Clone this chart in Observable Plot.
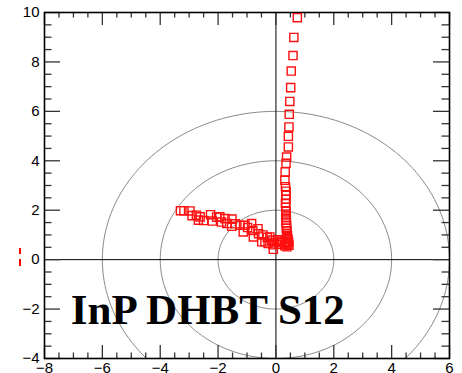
<!DOCTYPE html>
<html><head><meta charset="utf-8">
<script src="https://cdn.jsdelivr.net/npm/d3@7"></script>
<script src="https://cdn.jsdelivr.net/npm/@observablehq/plot@0.6"></script>
<style>
html,body{margin:0;padding:0;background:#fff;}
#wrap{position:relative;width:462px;height:373px;overflow:hidden;}
.dash{position:absolute;left:19px;width:2px;background:#ff0000;}
</style>
</head><body><div id="wrap"></div>
<script>
// Tick values
const xMajor = [-8, -6, -4, -2, 0, 2, 4, 6];
const yMajor = [-4, -2, 0, 2, 4, 6, 8, 10];
const xMinor = d3.range(-8, 6.001, 0.5).filter(v => !xMajor.includes(v));
const yMinor = d3.range(-4, 10.001, 0.5).filter(v => !yMajor.includes(v));

// Reference circle radii
const radii = [2, 4, 6];

const s12x = [
  0.74, 0.62, 0.59, 0.53, 0.51, 0.48, 0.46, 0.45, 0.43, 0.43, 0.37, 0.35, 0.32, 0.31,
  0.33, 0.35, 0.34, 0.35, 0.33, 0.34, 0.35, 0.34, 0.35, 0.36, 0.35, 0.37, 0.36, 0.38, 0.37,
  0.40, 0.38, 0.42, 0.36, 0.44, 0.33, 0.40, 0.45, 0.30, 0.38,
  0.20, 0.15, 0.10, 0.05, -0.04, -0.09, -0.10, -0.15, -0.21, -0.27, -0.30, -0.38, -0.45, -0.49,
  -0.60, -0.62, -0.78, -0.80, -0.84, -0.98, -1.07, -1.13, -1.24, -1.40, -1.53, -1.52, -1.70,
  -1.76, -1.88, -1.94, -2.05, -2.20, -2.26, -2.50, -2.68, -2.62, -2.75, -2.90, -2.97, -3.18, -3.30
];
const s12y = [
  9.79, 8.99, 8.26, 7.63, 6.96, 6.40, 5.88, 5.37, 4.99, 4.56, 4.15, 3.90, 3.55, 3.21,
  2.95, 2.77, 2.60, 2.44, 2.28, 2.12, 1.98, 1.85, 1.72, 1.60, 1.48, 1.37, 1.27, 1.17, 1.07,
  0.98, 0.90, 0.82, 0.75, 0.70, 0.66, 0.62, 0.58, 0.56, 0.52,
  0.75, 0.70, 0.62, 0.80, 0.68, 0.42, 0.60, 0.79, 0.92, 0.65, 0.90, 0.72, 1.00, 0.72,
  1.05, 1.25, 0.92, 1.18, 1.46, 1.30, 1.39, 1.12, 1.39, 1.45, 1.35, 1.64, 1.46,
  1.66, 1.52, 1.73, 1.72, 1.56, 1.82, 1.58, 1.60, 1.73, 1.80, 1.78, 1.97, 1.98, 1.98
];
const chartLabel = "InP DHBT S12";

const W = 462, H = 373;
const mL = 44, mR = 13, mT = 12, mB = 15;
const innerW = W - mL - mR, innerH = H - mT - mB;

const points = s12x.map((x, i) => ({x, y: s12y[i]}));
const circlePts = radii.flatMap(r => d3.range(0, 361, 2).map(a => ({
  r, x: r * Math.cos(a * Math.PI / 180), y: r * Math.sin(a * Math.PI / 180)
})));

const tickStyle = {stroke: "#333", strokeOpacity: 1, strokeWidth: 1.3};

const chart = Plot.plot({
  width: W, height: H,
  marginLeft: mL, marginRight: mR, marginTop: mT, marginBottom: mB,
  x: {domain: [-8, 6]},
  y: {domain: [-4, 10]},
  style: {fontFamily: "'Liberation Sans', Arial, sans-serif", background: "white", color: "black"},
  marks: [
    Plot.line(circlePts, {x: "x", y: "y", z: "r", stroke: "#8a8a8a", strokeWidth: 1, clip: true}),
    Plot.ruleX([0], {stroke: "black", strokeWidth: 1}),
    Plot.ruleY([0], {stroke: "black", strokeWidth: 1}),
    // inward ticks: left / right
    Plot.gridY(yMajor, {...tickStyle, insetRight: innerW - 16}),
    Plot.gridY(yMinor, {...tickStyle, insetRight: innerW - 7.5}),
    Plot.gridY(yMajor, {...tickStyle, insetLeft: innerW - 16}),
    Plot.gridY(yMinor, {...tickStyle, insetLeft: innerW - 7.5}),
    // inward ticks: top / bottom
    Plot.gridX(xMajor, {...tickStyle, insetBottom: innerH - 13}),
    Plot.gridX(xMinor, {...tickStyle, insetBottom: innerH - 5.5}),
    Plot.gridX(xMajor, {...tickStyle, insetTop: innerH - 13}),
    Plot.gridX(xMinor, {...tickStyle, insetTop: innerH - 5.5}),
    Plot.frame({stroke: "black", strokeWidth: 1.6}),
    Plot.axisY(yMajor, {anchor: "left", tickSize: 0, tickPadding: 5, label: null, fontSize: 15}),
    Plot.axisX(xMajor, {anchor: "bottom", tickSize: 0, tickPadding: 4, label: null, fontSize: 15}),
    Plot.dot(points, {x: "x", y: "y", symbol: "square", r: 4.6, stroke: "#ff1010", strokeWidth: 1.4, fill: "none"}),
    Plot.text([chartLabel], {x: -7.09, y: -2.62, text: d => d, textAnchor: "start", lineAnchor: "bottom",
      fontSize: 43, fontWeight: "bold", fontFamily: "'Liberation Serif', 'Times New Roman', serif", fill: "black"})
  ]
});
const wrap = document.getElementById("wrap");
wrap.appendChild(chart);
// small red dashed marker at left margin (legend stub)
for (const [top, h] of [[248, 6], [259, 7]]) {
  const d = document.createElement("div");
  d.className = "dash";
  d.style.top = top + "px";
  d.style.height = h + "px";
  wrap.appendChild(d);
}
</script></body></html>
